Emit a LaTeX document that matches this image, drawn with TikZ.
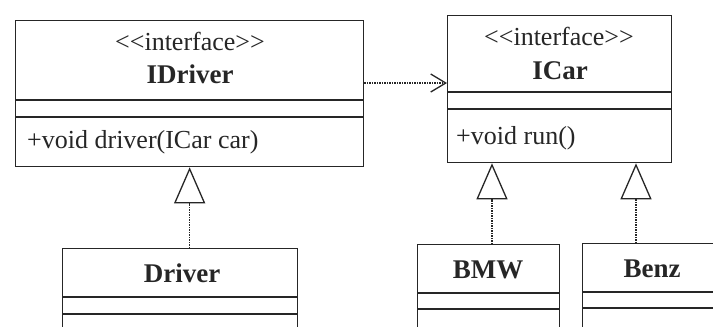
\documentclass[tikz,border=0pt]{standalone}
\usepackage{fontspec}
\setmainfont{Liberation Serif}[Ligatures=TeXOff]
\usetikzlibrary{arrows.meta}
\begin{document}
\begin{tikzpicture}[x=1pt,y=-1pt,
  box/.style={draw=black!85, line width=1.3pt, rectangle, inner sep=0pt, anchor=north west},
  sep/.style={draw=black!85, line width=1.3pt},
  txt/.style={text=black!85, font=\fontsize{26}{30}\selectfont, inner sep=0pt},
  ttl/.style={text=black!85, font=\fontsize{27}{30}\selectfont\bfseries, inner sep=0pt, anchor=base},
  real/.style={draw=black!85, line width=1.2pt, dash pattern=on 1.5pt off 1pt,
    -{Triangle[open, length=36pt, width=31pt, line width=1.3pt, fill=white]}},
  dep/.style={draw=black!85, line width=1.2pt, dash pattern=on 1.5pt off 1pt,
    -{Straight Barb[length=15pt, width=18pt, line width=1.3pt]}}]
\useasboundingbox (0,0) rectangle (713,327);
\clip (0,0) rectangle (713,327);
\fill[white] (0,0) rectangle (713,327);
% boxes
\node[box, minimum width=348pt, minimum height=146pt] (idriver) at (15,20) {};
\node[box, minimum width=224pt, minimum height=147pt] (icar) at (447,15) {};
\node[box, minimum width=235pt, minimum height=120pt] (driver) at (62,248) {};
\node[box, minimum width=142pt, minimum height=120pt] (bmw) at (417,244) {};
\node[box, minimum width=160pt, minimum height=120pt] (benz) at (582,243) {};
% separators
\draw[sep] (idriver.west |- 0,100) -- (idriver.east |- 0,100);
\draw[sep] (idriver.west |- 0,117) -- (idriver.east |- 0,117);
\draw[sep] (icar.west |- 0,92) -- (icar.east |- 0,92);
\draw[sep] (icar.west |- 0,109) -- (icar.east |- 0,109);
\draw[sep] (driver.west |- 0,297) -- (driver.east |- 0,297);
\draw[sep] (driver.west |- 0,314) -- (driver.east |- 0,314);
\draw[sep] (bmw.west |- 0,293) -- (bmw.east |- 0,293);
\draw[sep] (bmw.west |- 0,309) -- (bmw.east |- 0,309);
\draw[sep] (benz.west |- 0,292) -- (benz.east |- 0,292);
\draw[sep] (benz.west |- 0,308) -- (benz.east |- 0,308);
% texts
\node[txt, anchor=base] (idst) at (190,50) {<<interface>>};
\node[ttl] (idname) at (190,83) {IDriver};
\node[txt, anchor=base west] (idop) at (27,148) {+void driver(ICar car)};
\node[txt, anchor=base] (icst) at (559,45) {<<interface>>};
\node[ttl] (icname) at (560,79) {ICar};
\node[txt, anchor=base west] (icop) at (456,144) {+void run()};
\node[ttl] (drname) at (182,282) {Driver};
\node[ttl] (bmwname) at (488,278) {BMW};
\node[ttl] (benzname) at (652,277) {Benz};
% connectors
\draw[dep] (idriver.east |- 0,83) -- (icar.west |- 0,83);
\draw[real] (idriver.south |- driver.north) -- (idriver.south);
\draw[real] (492,0 |- bmw.north) -- (492,0 |- icar.south);
\draw[real] (636,0 |- benz.north) -- (636,0 |- icar.south);
\end{tikzpicture}
\end{document}
